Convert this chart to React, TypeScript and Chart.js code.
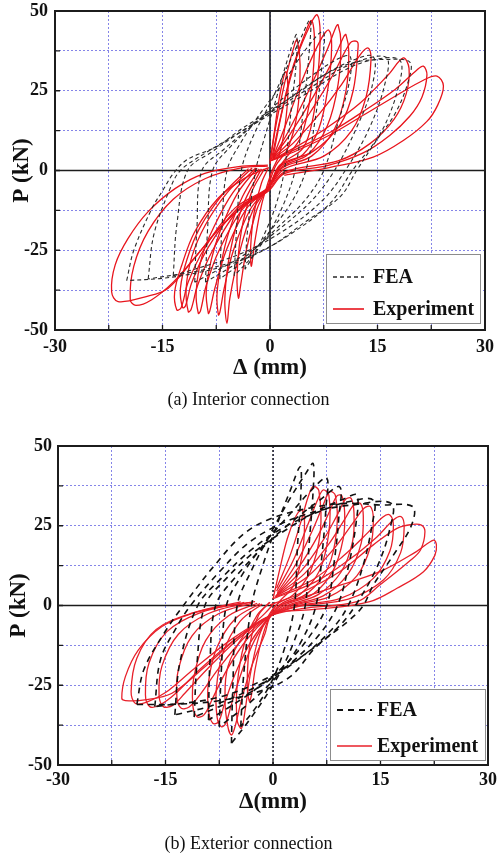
import { useEffect, useRef } from "react";
import { Chart, registerables } from "chart.js";

Chart.register(...registerables);

const SERIF = "'Liberation Serif', 'Times New Roman', Times, serif";

// Labelled ticks; grid lines every 7.5 mm and 12.5 kN
const deltaTicks = [-30, -15, 0, 15, 30];
const loadTicks = [-50, -25, 0, 25, 50];
const deltaGridStep = 7.5;
const loadGridStep = 12.5;

const legendLabels = ["FEA", "Experiment"];

// (a) Interior connection, measured cycles: flat lists of Δ (mm), P (kN) pairs
const interiorExperiment: number[][] = [
  [0, 2, 0.6, 12, 1.4, 24, 2.2, 31, 2.5, 25, 2.1, 14, 1.3, 5, 0.3, 0, -0.3, -4, -1.2, -11, -2.1, -22, -2.6, -30, -2.7, -24, -2.2, -13, -1.2, -4, -0.2, 1],
  [0, 3, 0.9, 15, 2.3, 30, 3.5, 40, 3.8, 41, 4.2, 33, 3.8, 18, 2.5, 7, 0.8, 1.5, -0.3, -5, -1.8, -12, -3.3, -25, -4.1, -36, -4.4, -40, -4.6, -33, -4.0, -19, -2.6, -7, -0.8, 0.5],
  [0.2, 3.5, 1.3, 15, 3.0, 31, 4.9, 43, 5.8, 47, 6.2, 41, 5.8, 26, 4.4, 11, 1.6, 2, -0.3, -5.5, -2.3, -12, -4.3, -26, -5.6, -40, -6.0, -47.9, -6.3, -40, -5.6, -26, -3.8, -11, -1.2, 0.5],
  [0.4, 4, 1.8, 19.6, 3.7, 35.3, 5.8, 46.5, 6.6, 48.8, 7.0, 43, 6.7, 30, 6.0, 16.5, 4.6, 7, 1.4, 1.7, -0.3, -5.5, -2.7, -12, -5.1, -25, -6.4, -37, -7.0, -44.5, -7.2, -45.3, -7.4, -39, -6.8, -29, -5.7, -19, -3.8, -8, -1.5, 0.5],
  [0.4, 4, 2.3, 15, 4.8, 30, 7.2, 41.5, 8.2, 44, 8.6, 39, 8.1, 26, 6.8, 13, 4.6, 5, 1.4, 1.2, -0.3, -5.5, -3.3, -12, -6.1, -25, -7.7, -37, -8.4, -44, -8.6, -44.8, -8.9, -38, -8.2, -28, -6.8, -18, -4.5, -7, -1.8, 0.7],
  [0.4, 4, 2.5, 12, 5.4, 25, 8.0, 38, 9.2, 45, 9.5, 45.7, 9.9, 40, 9.5, 27, 8.0, 14, 5.3, 5, 1.6, 1, -0.3, -5.6, -3.8, -12, -7.1, -25, -8.9, -36, -9.7, -44, -10.0, -44.8, -10.3, -38, -9.5, -27, -7.9, -18, -5.2, -7, -2, 0.8],
  [0.4, 4, 2.7, 11, 6.0, 23, 8.9, 35, 10.3, 42, 10.6, 42.6, 11.0, 37, 10.6, 25, 9.0, 13, 5.8, 4.5, 1.7, 0.8, -0.3, -5.6, -4.3, -12, -8.0, -25, -10.1, -36, -11.0, -43.5, -11.4, -44.3, -11.7, -37, -10.9, -27, -9.0, -17, -6.0, -7, -2.5, 0.8],
  [0.4, 3.9, 2.8, 9.2, 6, 19.6, 8.8, 30, 11.2, 40, 12.1, 40.5, 12.3, 39, 11.6, 25, 9.8, 14.4, 6, 6, 1.4, 1.7, -0.3, -5.5, -4.6, -12, -8.6, -24, -10.9, -35, -11.8, -42.5, -12.2, -43, -12.5, -37, -11.6, -28, -9.8, -18, -6.6, -7.5, -3, 0.6],
  [0.3, 3.5, 3.2, 8.5, 6.8, 17.5, 10, 27, 12.5, 36, 13.7, 38.4, 14.1, 35, 13.4, 23, 11.4, 12.5, 7.5, 4.5, 2, 0.5, -0.3, -5.5, -4.9, -11.8, -9.1, -24.3, -11.4, -34.9, -12.4, -43, -13, -43.7, -13.3, -38, -12.3, -29.6, -10.5, -19.2, -7.2, -8.6, -3.5, -2.4, -0.3, 0.8],
  [0.2, 3.3, 3.7, 7.5, 8, 13.5, 12.5, 21, 16.5, 30, 18.6, 35.3, 19.4, 32, 19, 24, 17.3, 16, 14, 8.5, 9.5, 3, 2, -0.5, -0.3, -6.2, -3.3, -10.5, -6.5, -16.8, -10.2, -26.5, -13.5, -35, -16.5, -40.5, -18.7, -42.3, -19.5, -40.5, -19, -30, -17, -19, -13.5, -9, -9, -2.5, -4, 0.8, -0.3, 1.4],
  [0.1, 3.1, 3.7, 6.8, 8.4, 12, 13, 18.5, 17.5, 25.5, 20.5, 31.5, 21.4, 32.7, 21.9, 30, 21.2, 23, 19.5, 17, 16.7, 11, 13, 5.5, 8, 1.5, 2, -1, -0.3, -6.6, -3.5, -10.8, -6.7, -17.1, -10.5, -27.4, -14.2, -36.9, -17.4, -39.6, -21.2, -41.1, -22.1, -38, -21.6, -29.6, -19.8, -21.3, -17, -12.9, -13.2, -5.6, -9.1, -0.9, -4.4, 1.2, -0.3, 1.7],
  [0, 3, 3.7, 6.2, 8.4, 11.2, 13, 17.3, 17.7, 23.6, 21.4, 28.3, 23.3, 29.6, 24.2, 26.5, 23.4, 20.5, 21.9, 15.4, 18.6, 9.4, 14.4, 4.2, 8.4, 1.0, 2, -1.5],
];

// (a) Interior connection, finite-element cycles
const interiorFEA: number[][] = [
  [-3.5, -31, -3.1, -18, -2.0, 0, -0.8, 10, 0.8, 22, 2.2, 33, 3.2, 40, 3.7, 42.6, 3.7, 35, 3.0, 20, 2.0, 0, 0.8, -11, -0.8, -20, -2.4, -27, -3.5, -31],
  [-5, -33, -4.6, -16, -4, 0, -2.5, 10, 0, 21, 2.5, 33, 4.4, 42, 5.6, 47.2, 5.5, 38, 4.6, 18, 3.5, 0, 2, -10, 0, -19, -2.5, -27, -5, -33],
  [-7, -34, -6.7, -18, -6, 0, -4, 9, -1, 19, 2, 28, 5, 38, 7.4, 43.5, 7.3, 34, 6.3, 16, 5, 0, 3, -10, 0, -19, -3.5, -28, -7, -34],
  [-9, -35, -8.7, -18, -8, 0, -5.5, 7.5, -2, 15, 2, 23, 6, 30, 9.5, 35, 11.2, 35.7, 11, 27, 9.5, 15, 7.5, 0, 5, -9, 1, -18, -4, -28, -9, -35],
  [-10.5, -35, -10.2, -18, -9.5, 0, -6.5, 6.5, -2.5, 14, 2, 21.5, 6.5, 28.5, 11, 34, 14.4, 35.7, 14.2, 26, 12, 13, 9, 0, 6, -9, 1.5, -18, -4, -27, -10.5, -35],
  [-13.5, -33, -13, -17, -11.5, 0, -8, 6, -3.5, 13, 1, 19.5, 6, 26.5, 11, 33, 16.2, 35.5, 15.9, 26, 13.6, 12, 10.5, 0, 7.5, -9, 2.5, -18, -4, -26, -13.5, -33],
  [-17, -34, -16.2, -20, -14, -6, -12.5, 0, -9, 5.5, -4.5, 11.5, 0, 17.5, 5, 24, 10, 31, 14, 34.5, 18.1, 34.6, 17.9, 26, 15.5, 12, 11.5, 0, 8.5, -10, 3.5, -19, -2, -26, -9, -31, -17, -34],
  [-20, -34.5, -19, -25, -16.5, -12, -14.9, -6, -13.5, -1, -11.5, 3.5, -7.4, 7.5, -4.2, 12.7, 0, 18.7, 4, 24.5, 8, 30.5, 12, 34, 16, 34.8, 19.5, 34, 19.3, 28, 17.5, 18, 14.9, 9.6, 12.1, 0, 9.8, -8.2, 5, -16, 0, -23.9, -5, -29, -10, -32, -15, -33.8, -20, -34.5],
];

// (b) Exterior connection, measured cycles
const exteriorExperiment: number[][] = [
  [0, 2, 0.8, 10, 2.0, 21, 3.2, 28, 4.0, 30, 4.4, 26, 4.0, 15, 2.8, 6, 0.8, 1, -0.4, -3, -1.5, -10, -2.5, -20, -3.0, -28, -3.3, -30, -3.6, -24, -3.2, -12, -2, -3, -0.5, 1],
  [0.5, 5.4, 2.4, 15.8, 4.0, 27, 4.9, 34, 5.6, 37.3, 6.4, 36, 6.6, 23.1, 5.2, 10.6, 2.8, 3.3, 0.6, 0.5, -0.7, -3.5, -2.0, -10, -3.2, -22, -3.9, -33, -4.4, -38.5, -5.0, -36, -5.0, -25, -4.0, -12, -2.2, -3, -0.4, 1],
  [0.5, 4.5, 2.8, 14, 4.8, 25, 6.2, 33, 7.0, 36.2, 7.8, 34.5, 7.8, 23, 6.5, 11, 3.8, 3.5, 1, 0.3, -0.5, -4, -1.1, -8.7, -3, -19.2, -4.4, -29.6, -5.3, -38, -5.8, -40.6, -6.3, -38, -6.7, -29.6, -6.3, -19.2, -3.9, -8.7, -1.1, -2.4, 0.3, 1],
  [0.6, 4, 3.2, 13, 5.5, 23.5, 7.0, 31.5, 7.9, 35.7, 8.7, 34.5, 8.9, 24, 7.7, 12, 4.8, 3.8, 1.2, 0.2, -0.6, -4, -2.6, -11, -4.4, -21, -5.8, -31, -6.6, -37, -7.2, -38, -7.8, -35, -7.9, -26, -7.0, -15, -4.6, -5, -1.5, 0.5],
  [0.6, 3.6, 3.6, 12, 6.3, 22, 8.0, 30, 8.9, 34.3, 9.6, 34.4, 10.0, 29, 9.8, 21, 8.4, 11, 5.6, 3.6, 1.6, 0.1, -0.6, -4, -3.0, -11, -5.2, -21, -6.8, -31, -7.6, -36.5, -8.4, -36.9, -9.0, -33, -9.0, -24, -7.8, -13, -5.2, -4, -1.8, 0.6],
  [0.5, 3.3, 4, 11, 7, 20.5, 9, 28.5, 10.1, 33.2, 10.9, 33.6, 11.3, 29, 11.1, 20, 9.5, 10.5, 6.3, 3.4, 2, 0, -0.7, -3.8, -3.6, -10.5, -6.4, -20, -8.4, -29, -9.6, -34.2, -10.6, -34.9, -11.2, -31, -11.0, -22, -9.4, -11, -6.2, -3.2, -2.2, 0.7],
  [0.4, 3, 4.4, 10, 7.7, 19, 10, 27, 11.3, 31.6, 12.2, 32, 12.6, 28, 12.3, 19.5, 10.5, 10, 7, 3, 2.4, 0, -0.7, -3.7, -4.2, -10.5, -7.6, -19.8, -10.2, -28, -11.7, -31.8, -12.8, -32.2, -13.4, -29, -13.2, -20, -11.3, -9.5, -7.6, -2.6, -2.8, 0.8],
  [0.3, 2.8, 4.8, 9, 8.5, 17.8, 11.2, 26, 12.7, 30.5, 13.6, 31, 14.0, 27, 13.6, 18.5, 11.7, 9.3, 7.8, 2.7, 2.8, 0, -0.7, -3.6, -4.8, -10.4, -9.0, -19.5, -12.3, -27.5, -14.0, -31.3, -15.3, -31.7, -15.9, -28, -15.5, -19, -13.2, -9, -9.0, -2.5, -3.5, 0.9],
  [0.2, 2.5, 5.5, 8, 9.8, 15.5, 13.3, 23, 15.3, 27.7, 16.3, 28.4, 16.8, 25, 16.3, 17, 14.0, 8.5, 9.5, 2.3, 3.3, -0.2, -0.7, -3.6, -5.2, -10.4, -10, -19.6, -13.6, -27.6, -15.8, -31.2, -17.2, -31.7, -17.8, -28, -17.3, -18, -14.8, -8.2, -10.2, -2.3, -4, 1],
  [0.1, 2.2, 6, 7.5, 10.7, 14.5, 14.5, 21.5, 16.8, 26.8, 17.9, 27.8, 18.3, 24.5, 17.8, 16.5, 15.4, 8, 10.5, 2, 3.6, -0.3, -0.7, -3.6, -5.6, -10.3, -11, -19.8, -15, -27.3, -17.6, -30.3, -19.2, -30.7, -19.8, -27, -19, -16.5, -16.3, -7.5, -11.3, -2.4, -4.5, 1.1],
  [-0.4, 0.2, 3.3, 3.3, 9.3, 10.6, 14, 19, 17.3, 24.2, 19.4, 25.4, 20.7, 25.2, 21.2, 23.1, 20.6, 17.5, 19.1, 14, 14.9, 6.4, 11.7, 1.2, 4, -1, -0.7, -3.5, -4.8, -9.8, -9.5, -19.2, -14.1, -27.5, -17.9, -29.6, -20.6, -29.8, -21.1, -29.1, -20.6, -22.3, -18.8, -14, -15.5, -6.6, -11.3, -2.5, -7.2, -0.4, -2.5, 1.2],
  [1, 0.2, 8, 5.4, 14.9, 10.6, 20, 16.9, 22.4, 20.5, 22.8, 19, 22.6, 15.8, 21, 10.6, 17.3, 5.4, 13.5, 1.2, 7, -1, 0, -2],
];

// (b) Exterior connection, finite-element cycles
const exteriorFEA: number[][] = [
  [-4.5, -38, -4.1, -22, -3, 0, -1.5, 12, 0.5, 25, 2.4, 36, 3.8, 43.5, 3.9, 36, 3.4, 18, 3, 0, 1.8, -12, 0, -23, -2.4, -32, -4.5, -38],
  [-5.8, -43.2, -5.6, -25, -5, 0, -3, 11, -0.5, 22, 2.5, 34, 4.6, 41.5, 5.6, 44.5, 5.6, 36, 5, 18, 4.5, 0, 2.8, -12, 0.5, -23, -3, -35, -5.8, -43.2],
  [-7.5, -38, -7.2, -20, -6.5, 0, -4.2, 10, -1, 20, 2.5, 29, 5.5, 36.5, 7.5, 40, 7.4, 31, 6.8, 15, 6, 0, 4, -11, 1, -21, -3, -30, -7.5, -38],
  [-9, -35.9, -8.8, -18, -8, 0, -5.2, 9, -1.5, 18, 2.5, 26, 6.5, 33, 9.3, 37.2, 9.2, 28, 8.5, 13, 7.5, 0, 5, -10, 1.5, -19, -3.5, -28, -9, -35.9],
  [-11, -35, -10.6, -18, -9.5, 0, -6.5, 8.5, -2.5, 17, 2, 24, 6.5, 30, 10, 33.5, 11.7, 34.6, 11.6, 26, 10.5, 12, 9, 0, 6.5, -9, 2.5, -18, -3, -27, -11, -35],
  [-13.7, -34.3, -13, -18, -10.5, 0, -7, 9, -3, 17.5, 1.5, 24.5, 6.5, 29.5, 10.5, 32.5, 14, 33, 13.8, 25, 12.5, 12, 10.5, 0, 8, -8, 3.5, -17, -2, -25, -8, -31, -13.7, -34.3],
  [-16.5, -31.7, -15.7, -17, -13.5, -7, -11.5, 0, -7.5, 10.5, -3.5, 19.5, 1, 25.5, 6, 29.5, 11, 31.5, 16.5, 32, 16.3, 24, 14.5, 12, 11.5, 0, 9, -7, 4, -16, -1.5, -23.5, -8, -29, -16.5, -31.7],
  [-19, -31, -18, -20, -15, -8, -12.5, 0, -8, 13, -4, 22.6, 0, 27.5, 5, 30.5, 10, 32, 15, 31.5, 19.5, 31, 19.3, 25, 16.8, 15.8, 14, 6.4, 12.6, 0, 10.7, -4.5, 6, -13, 2.4, -22.3, -2, -27, -8, -30, -14, -31, -19, -31],
];

const CANVAS_W = 497;
const CANVAS_H = 390;

type LineStyle = { color: string; width: number; dash: number[] };
type LegendBox = {
  left: number; top: number; right: number; bottom: number;
  feaY: number; expY: number; lineL: number; lineR: number; textX: number;
};
type PanelSpec = {
  top: number;
  area: { left: number; top: number; right: number; bottom: number };
  xTitle: string;
  yTitlePad: number;
  xTitlePad: number;
  xTickPad: number;
  yTickPad: number;
  zeroDash: number[];
  fea: LineStyle;
  exp: LineStyle;
  legend: LegendBox;
  experiment: number[][];
  model: number[][];
};

const toPoints = (flat: number[]) => {
  const pts: { x: number; y: number }[] = [];
  for (let i = 0; i + 1 < flat.length; i += 2) pts.push({ x: flat[i], y: flat[i + 1] });
  return pts;
};

// Zero axes, framed plot box with inward ticks, and the boxed legend
const hysteresisFrame = {
  id: "hysteresisFrame",
  beforeDatasetsDraw(chart: any, _args: unknown, o: any) {
    const { ctx, chartArea: a, scales } = chart;
    const x0 = scales.x.getPixelForValue(0);
    const y0 = scales.y.getPixelForValue(0);
    ctx.save();
    ctx.strokeStyle = "#1c1c1c";
    ctx.lineWidth = 1.6;
    ctx.beginPath();
    ctx.moveTo(a.left, y0);
    ctx.lineTo(a.right, y0);
    ctx.stroke();
    ctx.setLineDash(o.zeroDash);
    ctx.lineWidth = o.zeroDash.length ? 1.5 : 1.6;
    ctx.beginPath();
    ctx.moveTo(x0, a.top);
    ctx.lineTo(x0, a.bottom);
    ctx.stroke();
    ctx.restore();
  },
  afterDraw(chart: any, _args: unknown, o: any) {
    const { ctx, chartArea: a, scales } = chart;
    ctx.save();
    ctx.strokeStyle = "#1c1c1c";
    ctx.lineWidth = 1.3;
    ctx.beginPath();
    scales.x.ticks.forEach((t: any) => {
      const px = scales.x.getPixelForValue(t.value);
      ctx.moveTo(px, a.bottom);
      ctx.lineTo(px, a.bottom - 5);
    });
    scales.y.ticks.forEach((t: any) => {
      const py = scales.y.getPixelForValue(t.value);
      ctx.moveTo(a.left, py);
      ctx.lineTo(a.left + 5, py);
    });
    ctx.stroke();
    ctx.lineWidth = 2;
    ctx.strokeRect(a.left, a.top, a.right - a.left, a.bottom - a.top);

    const L: LegendBox = o.legend;
    const bx = a.right - L.left;
    const by = a.bottom - L.top;
    const bw = L.left - L.right;
    const bh = L.top - L.bottom;
    ctx.fillStyle = "#ffffff";
    ctx.fillRect(bx, by, bw, bh);
    ctx.strokeStyle = "#8c8c8c";
    ctx.lineWidth = 1;
    ctx.strokeRect(bx + 0.5, by + 0.5, bw, bh);

    const rows: [number, LineStyle, string][] = [
      [a.bottom - L.feaY, o.fea, legendLabels[0]],
      [a.bottom - L.expY, o.exp, legendLabels[1]],
    ];
    rows.forEach(([ly, st, label]) => {
      ctx.strokeStyle = st.color;
      ctx.lineWidth = st.width + 0.3;
      ctx.setLineDash(st.dash);
      ctx.beginPath();
      ctx.moveTo(a.right - L.lineL, ly);
      ctx.lineTo(a.right - L.lineR, ly);
      ctx.stroke();
      ctx.setLineDash([]);
      ctx.fillStyle = "#111";
      ctx.font = `bold 20px ${SERIF}`;
      ctx.textAlign = "left";
      ctx.textBaseline = "middle";
      ctx.fillText(label, a.right - L.textX, ly + 1);
    });
    ctx.restore();
  },
};

function HysteresisPanel({ spec }: { spec: PanelSpec }) {
  const ref = useRef<HTMLCanvasElement | null>(null);

  useEffect(() => {
    const canvas = ref.current;
    if (!canvas) return;
    const s = spec;
    const gridColor = "rgba(112,112,228,0.85)";
    const tickFont = { family: SERIF, size: 18, weight: "bold" as const };
    const titleFont = { family: SERIF, size: 23, weight: "bold" as const, lineHeight: 1 };

    const modelSets = s.model.map((loop) => ({
      data: toPoints(loop),
      showLine: true,
      pointRadius: 0,
      borderColor: s.fea.color,
      borderWidth: s.fea.width,
      borderDash: s.fea.dash,
      tension: 0.35,
      fill: false,
    }));
    const expSets = s.experiment.map((loop) => ({
      data: toPoints(loop),
      showLine: true,
      pointRadius: 0,
      borderColor: s.exp.color,
      borderWidth: s.exp.width,
      tension: 0.35,
      fill: false,
    }));

    const chart = new Chart(canvas, {
      type: "scatter",
      data: { datasets: [...modelSets, ...expSets] as any },
      plugins: [hysteresisFrame as any],
      options: {
        animation: false,
        responsive: false,
        maintainAspectRatio: false,
        devicePixelRatio: 1,
        events: [],
        layout: {
          padding: { left: 0, top: s.area.top, right: CANVAS_W - s.area.right, bottom: 0 },
        },
        plugins: {
          legend: { display: false },
          tooltip: { enabled: false },
          hysteresisFrame: {
            zeroDash: s.zeroDash,
            fea: s.fea,
            exp: s.exp,
            legend: s.legend,
          },
        } as any,
        scales: {
          x: {
            type: "linear",
            min: deltaTicks[0],
            max: deltaTicks[deltaTicks.length - 1],
            afterFit: (scale: any) => {
              scale.height = CANVAS_H - s.area.bottom;
              scale.paddingLeft = 0;
              scale.paddingRight = 0;
            },
            ticks: {
              stepSize: deltaGridStep,
              autoSkip: false,
              maxRotation: 0,
              padding: s.xTickPad,
              color: "#111",
              font: tickFont,
              callback: (v: any) => (deltaTicks.includes(Number(v)) ? String(v) : ""),
            },
            grid: { color: gridColor, lineWidth: 1, drawTicks: false, borderDash: [2, 2] } as any,
            border: { display: false, dash: [2, 2] },
            title: {
              display: true,
              text: s.xTitle,
              color: "#111",
              font: titleFont,
              padding: { top: 0, bottom: s.xTitlePad },
            },
          },
          y: {
            type: "linear",
            min: loadTicks[0],
            max: loadTicks[loadTicks.length - 1],
            afterFit: (scale: any) => {
              scale.width = s.area.left;
              scale.paddingTop = 0;
              scale.paddingBottom = 0;
            },
            ticks: {
              stepSize: loadGridStep,
              autoSkip: false,
              padding: s.yTickPad,
              color: "#111",
              font: tickFont,
              callback: (v: any) => (loadTicks.includes(Number(v)) ? String(v) : ""),
            },
            grid: { color: gridColor, lineWidth: 1, drawTicks: false, borderDash: [2, 2] } as any,
            border: { display: false, dash: [2, 2] },
            title: {
              display: true,
              text: "P (kN)",
              color: "#111",
              font: titleFont,
              padding: { top: s.yTitlePad, bottom: 0 },
            },
          },
        },
      },
    });
    return () => chart.destroy();
  }, [spec]);

  return (
    <canvas
      ref={ref}
      width={CANVAS_W}
      height={CANVAS_H}
      style={{ position: "absolute", left: 0, top: spec.top, width: CANVAS_W, height: CANVAS_H }}
    />
  );
}

const interiorPanel: PanelSpec = {
  top: 0,
  area: { left: 55, top: 11, right: 485, bottom: 330 },
  xTitle: "Δ (mm)",
  yTitlePad: 10.5,
  xTitlePad: 10.5,
  xTickPad: 6.5,
  yTickPad: 7,
  zeroDash: [],
  fea: { color: "#2a2a2a", width: 1.1, dash: [4, 3] },
  exp: { color: "#e8141c", width: 1.3, dash: [] },
  legend: { left: 159, top: 76, right: 5, bottom: 7, feaY: 53, expY: 21, lineL: 152, lineR: 121, textX: 112 },
  experiment: interiorExperiment,
  model: interiorFEA,
};

const exteriorPanel: PanelSpec = {
  top: 430,
  area: { left: 58, top: 16, right: 488, bottom: 335 },
  xTitle: "Δ(mm)",
  yTitlePad: 8,
  xTitlePad: 6.5,
  xTickPad: 5,
  yTickPad: 6,
  zeroDash: [2, 2],
  fea: { color: "#111111", width: 1.6, dash: [6, 5] },
  exp: { color: "#e8202a", width: 1.3, dash: [] },
  legend: { left: 158, top: 76, right: 3, bottom: 5, feaY: 55, expY: 19, lineL: 151, lineR: 116, textX: 111 },
  experiment: exteriorExperiment,
  model: exteriorFEA,
};

const captionStyle = (top: number): React.CSSProperties => ({
  position: "absolute",
  left: 0,
  top,
  width: CANVAS_W,
  textAlign: "center",
  fontFamily: SERIF,
  fontSize: 18,
  lineHeight: "24px",
  color: "#111",
});

export default function App() {
  return (
    <div style={{ position: "absolute", left: 0, top: 0, width: 497, height: 856, background: "#fff" }}>
      <HysteresisPanel spec={interiorPanel} />
      <div style={captionStyle(387)}>(a) Interior connection</div>
      <HysteresisPanel spec={exteriorPanel} />
      <div style={captionStyle(831)}>(b) Exterior connection</div>
    </div>
  );
}
